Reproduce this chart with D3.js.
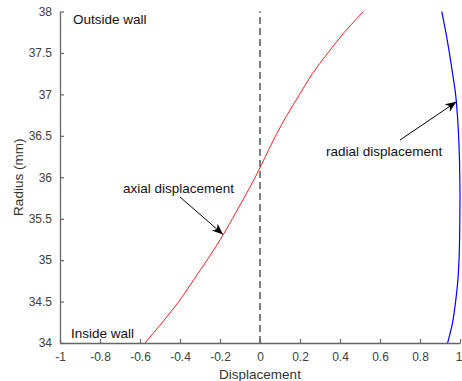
<!DOCTYPE html>
<html>
<head>
<meta charset="utf-8">
<script src="https://cdn.jsdelivr.net/npm/d3@7"></script>
<style>
  body { margin: 0; background: #fff; }
  svg { display: block; font-family: "Liberation Sans", Arial, sans-serif; }
</style>
</head>
<body>
<svg width="462" height="381"></svg>
<script>
// radius samples (mm) and the two displacement curves
var radius = [34, 34.25, 34.5, 34.75, 35, 35.25, 35.5, 35.75, 36, 36.25, 36.5, 36.75, 37, 37.25, 37.5, 37.75, 38];
var axial = [-0.575, -0.488, -0.406, -0.335, -0.265, -0.198, -0.138, -0.080, -0.024, 0.027, 0.078, 0.135, 0.198, 0.262, 0.339, 0.422, 0.517];
var radial = [0.938, 0.963, 0.978, 0.989, 0.995, 0.998, 0.999, 1.0, 0.999, 0.997, 0.993, 0.987, 0.978, 0.963, 0.947, 0.929, 0.909];

var xTicks = [-1, -0.8, -0.6, -0.4, -0.2, 0, 0.2, 0.4, 0.6, 0.8, 1];
var yTicks = [34, 34.5, 35, 35.5, 36, 36.5, 37, 37.5, 38];

var svg = d3.select("svg");

var x = d3.scaleLinear().domain([-1, 1]).range([60, 460]),
    y = d3.scaleLinear().domain([34, 38]).range([343, 11.5]);

// arrow head like matlab's annotation arrow
svg.append("defs").append("marker")
    .attr("id", "head")
    .attr("markerUnits", "userSpaceOnUse")
    .attr("viewBox", "-12 -6 14 12")
    .attr("refX", 0).attr("refY", 0)
    .attr("markerWidth", 14).attr("markerHeight", 12)
    .attr("orient", "auto")
    .append("path")
    .attr("d", "M0,0 L-11,-4.5 L-8,0 L-11,4.5 Z")
    .attr("fill", "#000");

// dashed zero line
svg.append("line")
    .attr("x1", x(0)).attr("x2", x(0))
    .attr("y1", y(34)).attr("y2", y(38))
    .attr("stroke", "#555")
    .attr("stroke-width", 1.5)
    .attr("stroke-dasharray", "7,4");

var lineAxial = d3.line()
    .x(function(d, i) { return x(axial[i]); })
    .y(function(d) { return y(d); })
    .curve(d3.curveMonotoneY);

var lineRadial = d3.line()
    .x(function(d, i) { return x(radial[i]); })
    .y(function(d) { return y(d); })
    .curve(d3.curveMonotoneY);

svg.append("path")
    .attr("d", lineAxial(radius))
    .attr("fill", "none")
    .attr("stroke", "#ff2020")
    .attr("stroke-width", 1);

svg.append("path")
    .attr("d", lineRadial(radius))
    .attr("fill", "none")
    .attr("stroke", "#0000ff")
    .attr("stroke-width", 1.2);

// axes, ticks pointing inward
var gx = svg.append("g")
    .attr("transform", "translate(0," + y(34) + ")")
    .call(d3.axisBottom(x).tickValues(xTicks).tickSizeInner(-4).tickSizeOuter(0)
        .tickPadding(9).tickFormat(function(d) { return String(d); }));

var gy = svg.append("g")
    .attr("transform", "translate(" + x(-1) + ",0)")
    .call(d3.axisLeft(y).tickValues(yTicks).tickSizeInner(-4).tickSizeOuter(0)
        .tickPadding(8).tickFormat(function(d) { return String(d); }));

[gx, gy].forEach(function(g) {
    g.select(".domain").attr("stroke", "#666").attr("stroke-width", 1.3);
    g.selectAll(".tick line").attr("stroke", "#666").attr("stroke-width", 1.2);
    g.selectAll(".tick text").attr("fill", "#404040").style("font-size", "12px")
        .style("font-family", "'Liberation Sans', Arial, sans-serif");
});

// last x label sits against the window edge
gx.selectAll(".tick text").filter(function(d) { return d === 1; }).attr("dx", "-1.5");

// axis titles
svg.append("text")
    .attr("x", x(0)).attr("y", 379)
    .attr("text-anchor", "middle")
    .attr("fill", "#333")
    .style("font-size", "13.5px")
    .text("Displacement");

svg.append("text")
    .attr("transform", "translate(23," + (y(36)) + ") rotate(-90)")
    .attr("text-anchor", "middle")
    .attr("fill", "#333")
    .style("font-size", "13.5px")
    .text("Radius (mm)");

// wall labels
svg.append("text")
    .attr("x", 73).attr("y", 24)
    .attr("fill", "#111")
    .style("font-size", "13.5px")
    .text("Outside wall");

svg.append("text")
    .attr("x", 71).attr("y", 338)
    .attr("fill", "#111")
    .style("font-size", "13.5px")
    .text("Inside wall");

// annotations
svg.append("text")
    .attr("x", 123).attr("y", 193)
    .attr("fill", "#111")
    .style("font-size", "13.5px")
    .text("axial displacement");

svg.append("line")
    .attr("x1", 180).attr("y1", 197)
    .attr("x2", x(-0.185)).attr("y2", y(35.31))
    .attr("stroke", "#000").attr("stroke-width", 1)
    .attr("marker-end", "url(#head)");

svg.append("text")
    .attr("x", 326).attr("y", 156)
    .attr("fill", "#111")
    .style("font-size", "13.5px")
    .text("radial displacement");

svg.append("line")
    .attr("x1", 400).attr("y1", 140)
    .attr("x2", x(0.982)).attr("y2", y(36.91))
    .attr("stroke", "#000").attr("stroke-width", 1)
    .attr("marker-end", "url(#head)");
</script>
</body>
</html>
